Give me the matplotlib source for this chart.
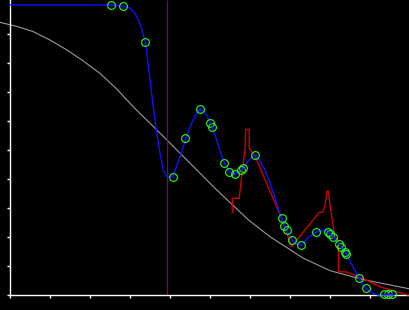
import matplotlib
matplotlib.use("Agg")
import matplotlib.pyplot as plt

# reference curve (gray)
gray_x = [-0.25, 0.17, 0.58, 1.0, 1.42, 1.83, 2.25, 2.67, 3.08, 3.67, 4.25,
          5.125, 5.96, 6.5, 7.33, 8.0, 8.83, 10.0]
gray_y = [9.40, 9.26, 9.08, 8.79, 8.45, 8.07, 7.64, 7.10, 6.49, 5.69, 4.89,
          3.68, 2.59, 2.01, 1.27, 0.84, 0.53, 0.21]

# smoothed curve (blue)
blue_x = [0, 2.525, 2.7, 2.825, 3.0, 3.125, 3.21, 3.27, 3.32, 3.39,
          3.5, 3.58, 3.67, 3.75, 3.83, 3.9, 3.96, 4.025, 4.08, 4.15,
          4.25, 4.36, 4.5, 4.625, 4.75, 4.875, 5.0, 5.125, 5.25, 5.35,
          5.475, 5.625, 5.75, 5.875, 6.0, 6.125, 6.25, 6.375, 6.5, 6.625,
          6.775, 6.85, 6.925, 7.05, 7.15, 7.275, 7.45, 7.65, 7.8, 7.95,
          8.075, 8.225, 8.375, 8.55, 8.725, 8.825, 8.9, 9.05, 9.2, 9.6]
blue_y = [10.0, 10.0, 9.98, 9.96, 9.89, 9.71, 9.48, 9.25, 9.02, 8.70,
          7.41, 6.49, 5.57, 4.89, 4.31, 4.12, 4.07, 4.07, 4.14, 4.38,
          4.77, 5.23, 5.79, 6.17, 6.41, 6.31, 5.97, 5.52, 4.97, 4.59,
          4.28, 4.17, 4.28, 4.48, 4.69, 4.83, 4.62, 4.31, 3.86, 3.34,
          2.69, 2.41, 2.21, 1.90, 1.76, 1.72, 1.97, 2.17, 2.24, 2.21,
          2.0, 1.79, 1.48, 1.03, 0.59, 0.38, 0.24, 0.07, 0.0, 0.0]

# raw trace (red)
red_x = [5.56, 5.56, 5.73, 5.79, 5.83, 5.875, 5.89, 5.98, 5.98, 6.125,
         6.79, 7.04, 7.73, 7.82, 7.875, 7.93, 7.96, 8.0, 8.125, 8.21,
         8.21, 8.375, 8.75, 9.25, 9.95]
red_y = [2.84, 3.33, 3.33, 4.08, 4.54, 5.0, 5.71, 5.71, 5.06, 4.79,
         2.64, 1.67, 2.85, 2.85, 3.10, 3.59, 3.59, 3.10, 1.97, 1.90,
         0.80, 0.80, 0.62, 0.28, 0.0]

# sample points (green circles)
pts_x = [2.53, 2.825, 3.38, 4.075, 4.38, 4.75, 5.0, 5.06, 5.36, 5.48,
         5.63, 5.77, 5.82, 6.13, 6.79, 6.86, 6.92, 7.06, 7.28, 7.66,
         7.96, 8.0, 8.08, 8.22, 8.28, 8.375, 8.39, 8.73, 8.91, 9.34,
         9.44, 9.56]
pts_y = [9.99, 9.97, 8.71, 4.07, 5.40, 6.40, 5.93, 5.78, 4.55, 4.24,
         4.17, 4.31, 4.38, 4.83, 2.67, 2.39, 2.25, 1.89, 1.73, 2.16,
         2.16, 2.09, 1.99, 1.76, 1.67, 1.48, 1.43, 0.59, 0.23, 0.02,
         0.02, 0.02]

marker_x = 3.93
x_ticks = list(range(0, 11))
y_ticks = list(range(0, 10))

y_top = 10.17
fig = plt.figure(figsize=(4.1, 3.1), dpi=100, facecolor='black')
ax = fig.add_axes([0, 0, 1, 1], facecolor='black')

ax.plot(gray_x, gray_y, color='#9a9a9a', lw=0.8, zorder=1, clip_on=False)
ax.vlines(marker_x, 0, y_top, color='#6a0a6a', lw=0.9, zorder=2)
ax.plot(red_x, red_y, color='#cc0000', lw=1.0, zorder=3)
ax.plot(blue_x, blue_y, color='#1010ff', lw=1.0, zorder=4)
ax.plot(pts_x, pts_y, 'o', ms=5.6, mfc='none', mec='#22ff22', mew=0.8,
        zorder=5, clip_on=False)
ax.plot(pts_x, pts_y, '.', ms=1.2, color='#1010ff', zorder=6, clip_on=False)

ax.set_xlim(-0.25, 10.0)
ax.set_ylim(-0.517, y_top)

for side in ('top', 'right'):
    ax.spines[side].set_visible(False)
ax.spines['left'].set_position(('data', 0))
ax.spines['bottom'].set_position(('data', 0))
ax.spines['left'].set_bounds(0, y_top)
ax.spines['bottom'].set_bounds(0, 10.0)
for side in ('left', 'bottom'):
    ax.spines[side].set_color('white')
    ax.spines[side].set_linewidth(1.0)

ax.set_xticks(x_ticks)
ax.set_yticks(y_ticks)
ax.set_xticklabels([])
ax.set_yticklabels([])
ax.tick_params(direction='out', length=2.5, width=1.0, color='white')

fig.savefig('out.png', dpi=100, facecolor='black')
